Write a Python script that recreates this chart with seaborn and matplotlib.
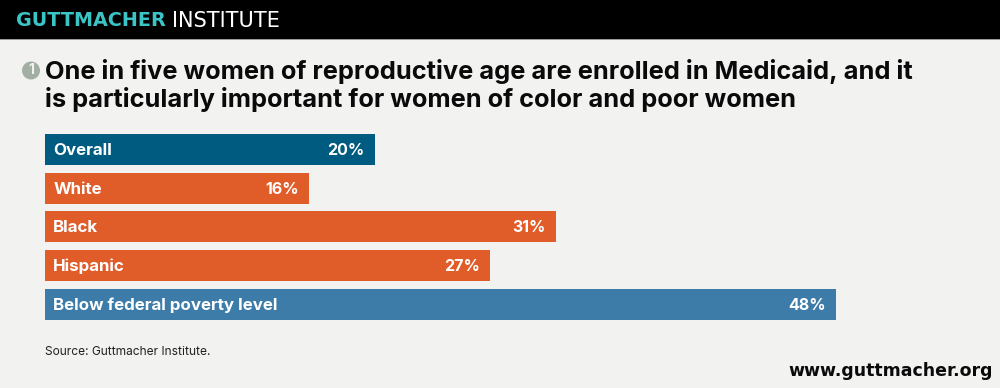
import pandas as pd
import matplotlib
matplotlib.use("Agg")
import matplotlib.pyplot as plt
from matplotlib.patches import Rectangle, Circle
import seaborn as sns

# Chart values
groups = ["Overall", "White", "Black", "Hispanic", "Below federal poverty level"]
shares = [20, 16, 31, 27, 48]
bar_colors = ["#005B80", "#E05C29", "#E05C29", "#E05C29", "#3D7CA8"]

title_lines = ["One in five women of reproductive age are enrolled in Medicaid, and it",
               "is particularly important for women of color and poor women"]

df = pd.DataFrame({"group": groups, "share": shares})

sns.set_theme(style="white")
plt.rcParams["font.family"] = ["Inter", "DejaVu Sans"]

W, H = 1000, 388
BG = "#F2F2F1"
fig = plt.figure(figsize=(W / 100, H / 100), dpi=100, facecolor=BG)

# full-figure layer in pixel coordinates for header and text
bg = fig.add_axes([0, 0, 1, 1])
bg.set_xlim(0, W)
bg.set_ylim(H, 0)
bg.axis("off")
bg.add_patch(Rectangle((0, 0), W, 39, color="black", lw=0))
bg.add_patch(Rectangle((0, 39), W, 1, color="#9A9A9A", lw=0))

bg.text(16, 21, "GUTTMACHER", color="#3BC4C6", fontsize=13.8, fontweight="bold",
        family=["DejaVu Sans"], va="center", ha="left")
bg.text(172, 21, "INSTITUTE", color="white", fontsize=15,
        family=["DejaVu Sans"], va="center", ha="left")

# numbered bullet
bg.add_patch(Circle((31, 70.5), 9, color="#A3AEA3", lw=0))
bg.text(31, 70.5, "1", color=BG, fontsize=10, fontweight="bold", ha="center", va="center")

bg.text(45, 71, title_lines[0], color="#0A0A0A", fontsize=18.3, fontweight="bold", va="center")
bg.text(45, 99, title_lines[1], color="#0A0A0A", fontsize=18.3, fontweight="bold", va="center")

bg.text(45, 352, "Source: Guttmacher Institute.", color="#222222", fontsize=8.6, va="center")
bg.text(993, 371, "www.guttmacher.org", color="#0A0A0A", fontsize=12.55, fontweight="bold",
        family=["DejaVu Sans"], va="center", ha="right")

# bars: axes covers px 45-836 across, 134-320 down
ax = fig.add_axes([45 / W, 1 - 320 / H, (836 - 45) / W, (320 - 134) / H])
sns.barplot(data=df, y="group", x="share", hue="group", palette=bar_colors, legend=False,
            width=0.8, ax=ax, orient="h", saturation=1, linewidth=0)
ax.set_xlim(0, 48)
ax.set_ylim(4.4, -0.4)
ax.axis("off")

for i, (g, v) in enumerate(zip(groups, shares)):
    ax.text(0.5, i + 0.02, g, color="white", fontsize=12.2, fontweight="bold", va="center", ha="left")
    ax.text(v - 0.6, i + 0.02, f"{v}%", color="white", fontsize=11.5, fontweight="bold", va="center", ha="right")

fig.savefig("out.png", dpi=100, facecolor=BG)
